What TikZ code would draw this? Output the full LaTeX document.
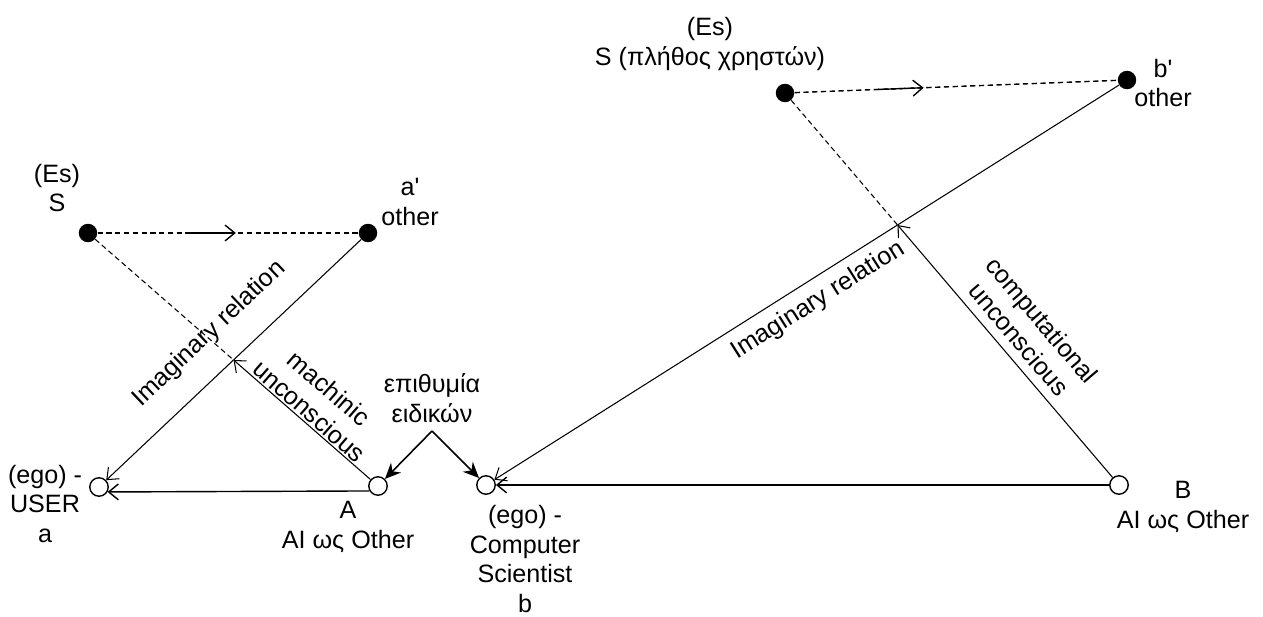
\documentclass[tikz,border=0pt]{standalone}
\usepackage{fontspec}
\setmainfont{Liberation Sans}
\usepackage{tikz}
\usetikzlibrary{positioning, arrows.meta, decorations.markings}

\begin{document}
\begin{tikzpicture}[
                x=0.02cm, y=-0.02cm,
                font=\fontsize{14.3}{17}\selectfont,
                dot/.style={circle, fill=black, minimum size=10.5pt, inner sep=0pt},
                hole/.style={circle, draw, fill=white, minimum size=10.5pt, inner sep=0pt, line width=0.8pt},
                lbl/.style={align=center, inner sep=0pt},
                rel/.style={draw, line width=0.6pt, -{Straight Barb[length=5.5pt,width=9pt]}},
                hint/.style={draw, line width=0.6pt, dash pattern=on 3pt off 2pt},
                flow/.style={hint, line width=0.8pt, postaction={decorate, decoration={markings,
                    mark=at position #1 with {\draw[solid, line width=0.8pt, -{Straight Barb[length=5.5pt,width=9pt]}] (-27pt,0) -- (0,0);}}}},
                wish/.style={draw, line width=0.9pt, -{Stealth[length=9pt,width=8pt]}}
                ]
                \useasboundingbox (0,0) rectangle (1263,617);

                % nodes
                \node[dot] (s1) at (88,233) {};
                \node[dot] (a1) at (368,233) {};
                \node[hole] (a) at (99,487) {};
                \node[hole] (A) at (378,486) {};
                \node[hole] (b) at (486,485) {};
                \node[hole] (B) at (1119,485) {};
                \node[dot] (s2) at (785,93) {};
                \node[dot] (b1) at (1127,80) {};

                \coordinate (m1) at (intersection of s1--A and a1--a);
                \coordinate (m2) at (intersection of s2--B and b1--b);
                \coordinate (wtip) at (432,431);

                % labels
                \node[lbl] (s1l) at (57,188) {(Es)\\S};
                \node[lbl] (a1l) at (410,202) {a\textquotesingle\\other};
                \node[lbl] (al) at (45,504) {(ego) -\\USER\\a};
                \node[lbl] (Al) at (348,527) {A\\AI ως Other};
                \node[lbl] (bl) at (525,559) {(ego) -\\Computer\\Scientist\\b};
                \node[lbl] (Bl) at (1183,507) {B\\AI ως Other};
                \node[lbl] (s2l) at (710,44) {(Es)\\S (πλήθος χρηστών)};
                \node[lbl] (b1l) at (1163,83) {b\textquotesingle\\other};
                \node[lbl] (wl) at (432,398) {επιθυμία\\ειδικών};

                % left triangle
                \draw[flow=0.53] (s1) -- (a1);
                \draw[hint] (s1) -- (m1);
                \draw[rel] (a1) -- node[sloped, above=10pt] {Imaginary relation} (a);
                \draw[rel] (A) -- node[sloped, above=1pt, lbl] {machinic\\unconscious} (m1);
                \draw[rel, line width=0.8pt] (A.210) -- (a.-30);

                % right triangle
                \draw[flow=0.40] (s2) -- (b1);
                \draw[hint] (s2) -- (m2);
                \draw[rel] (b1) -- node[sloped, below=2pt] {Imaginary relation} (b);
                \draw[rel] (B) -- node[sloped, above=5pt, lbl] {computational\\unconscious} (m2);
                \draw[rel, line width=0.8pt] (B) -- (b);

                % desire of the experts
                \draw[wish] (wtip) -- (A);
                \draw[wish] (wtip) -- (b);
            \end{tikzpicture}
\end{document}
